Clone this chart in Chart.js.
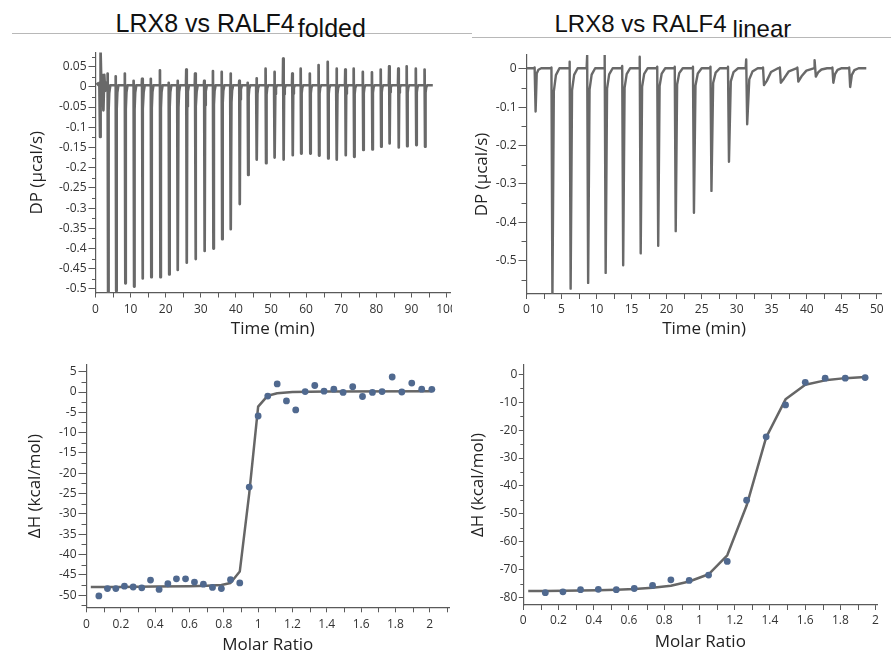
<!DOCTYPE html>
<html>
<head>
<meta charset="utf-8">
<script src="https://cdn.jsdelivr.net/npm/chart.js@4.4.1/dist/chart.umd.min.js"></script>
<style>
  body { margin: 0; background: #fff; width: 891px; height: 655px; position: relative; overflow: hidden; }
  .rule { position: absolute; height: 1px; background: #b8b8b8; }
  .title { position: absolute; font-family: "Liberation Sans", Arial, sans-serif; color: #111; white-space: nowrap; line-height: 24px; }
  .title span { position: relative; }
  .panel { position: absolute; overflow: hidden; }
  .panel canvas { display: block; }
</style>
</head>
<body>
<div class="rule" style="left:12px;top:33px;width:460px"></div>
<div class="rule" style="left:472px;top:37px;width:419px"></div>
<div class="title" style="left:115.5px;top:11.3px;font-size:25px">LRX8 vs RALF4<span style="margin-left:3px;top:5px">folded</span></div>
<div class="title" style="left:554.5px;top:12.4px;font-size:24px">LRX8 vs RALF4<span style="margin-left:6px;top:4.6px">linear</span></div>

<script>
// ---- top left: LRX8 vs RALF4 folded, raw power trace ----
const foldStartTime = [0.3, 0.8, 1.1, 1.3, 1.45, 1.6, 1.8, 2.05, 2.25, 2.5, 2.75, 3.0, 3.2];
const foldStartDP = [0.01, 0.005, 0.01, -0.124, 0.086, 0.03, 0.0, 0.02, -0.058, 0.03, -0.01, 0.01, 0.005];
const foldInjTime = [3.5, 5.8, 8.4, 10.9, 13.3, 15.8, 18.4, 20.9, 23.4, 25.9, 28.4, 31.0, 33.5, 36.0, 38.5, 41.0,
  43.4, 45.9, 48.5, 51.0, 53.5, 56.1, 58.5, 61.1, 63.6, 66.2, 68.7, 71.2, 73.6, 76.2, 78.8, 81.3, 83.7, 86.3, 88.7, 91.3, 93.8];
const foldPeakDP = [-0.53, -0.505, -0.486, -0.494, -0.474, -0.471, -0.471, -0.464, -0.453, -0.435, -0.426, -0.406, -0.400, -0.377, -0.352, -0.290,
  -0.218, -0.180, -0.189, -0.175, -0.180, -0.169, -0.165, -0.165, -0.170, -0.177, -0.180, -0.169, -0.173, -0.156, -0.155, -0.148, -0.140, -0.150, -0.147, -0.144, -0.148];
const foldSpikeDP = [0.033, 0.026, 0.033, 0.015, 0.02, 0.02, 0.041, 0.01, 0.015, 0.043, 0.033, 0.015, 0.039, 0.037, 0.033, 0.015,
  0.01, 0.021, 0.045, 0.037, 0.070, 0.033, 0.045, 0.033, 0.054, 0.062, 0.045, 0.043, 0.045, 0.037, 0.036, 0.043, 0.051, 0.045, 0.051, 0.045, 0.043];
const foldRecovery = 0.6;
const foldTail = 0.12;
const foldBaseDP = 0.004;
const foldEndTime = 96.1;

// ---- top right: LRX8 vs RALF4 linear, raw power trace ----
const linStartTime = [0];
const linStartDP = [0.002];
const linInjTime = [1.2, 3.6, 6.2, 8.7, 11.2, 13.7, 16.2, 18.7, 21.2, 23.8, 26.3, 28.8, 31.4, 33.8, 36.2, 38.7, 41.2, 43.7, 46.1];
const linPeakDP = [-0.111, -0.60, -0.573, -0.558, -0.532, -0.512, -0.481, -0.461, -0.423, -0.375, -0.318, -0.242, -0.144, -0.042, -0.036, -0.033, -0.020, -0.036, -0.047];
const linSpikeDP = [0.004, 0.004, 0.019, 0.036, 0.036, 0.008, 0.032, 0.006, 0.006, 0.006, 0.006, 0.006, 0.025, 0.004, 0.004, 0.004, 0.023, 0.004, 0.004];
const linRecovery = [0.8, 1.0, 1.0, 1.0, 1.0, 1.0, 1.0, 1.0, 1.0, 1.1, 1.2, 1.3, 1.5, 2.0, 2.3, 2.3, 1.6, 1.2, 1.2];
const linTail = [0.12, 0.1, 0.1, 0.1, 0.1, 0.1, 0.1, 0.1, 0.1, 0.12, 0.12, 0.14, 0.2, 0.75, 0.7, 0.6, 0.5, 0.4, 0.35];
const linBaseDP = 0.002;
const linEndTime = 48.5;

// ---- bottom left: integrated heats, folded ----
const foldRatio = [0.072, 0.122, 0.171, 0.221, 0.272, 0.322, 0.373, 0.423, 0.474, 0.524, 0.577, 0.629, 0.681, 0.734, 0.786, 0.839, 0.893, 0.948, 1.000,
  1.056, 1.111, 1.165, 1.219, 1.274, 1.330, 1.384, 1.441, 1.495, 1.551, 1.608, 1.666, 1.722, 1.781, 1.837, 1.895, 1.953, 2.012];
const foldDH = [-50.2, -48.4, -48.4, -47.8, -48.0, -48.2, -46.3, -48.6, -47.2, -46.0, -46.0, -46.8, -47.3, -48.1, -48.4, -46.2, -47.0, -23.4, -5.9,
  -1.0, 2.0, -2.2, -4.4, 0.1, 1.6, 0.2, 0.7, -0.1, 1.3, -1.1, -0.1, 0.1, 3.7, 0.0, 2.2, 0.7, 0.65];
const foldFitRatio = [0.025, 0.2, 0.4, 0.6, 0.7, 0.786, 0.839, 0.893, 0.948, 1.0, 1.056, 1.111, 1.2, 1.4, 2.012];
const foldFitDH = [-48.0, -48.0, -47.9, -47.8, -47.7, -47.5, -47.0, -44.2, -25.0, -3.6, -0.9, -0.3, 0.0, 0.1, 0.2];

// ---- bottom right: integrated heats, linear ----
const linRatio = [0.125, 0.225, 0.325, 0.426, 0.528, 0.630, 0.734, 0.838, 0.942, 1.052, 1.158, 1.268, 1.379, 1.489, 1.601, 1.714, 1.828, 1.941];
const linDH = [-78.2, -77.9, -77.1, -77.0, -77.1, -76.7, -75.6, -73.6, -73.8, -71.9, -67.0, -45.1, -22.4, -11.0, -2.9, -1.4, -1.4, -1.2];
const linFitRatio = [0.028, 0.125, 0.225, 0.325, 0.426, 0.528, 0.630, 0.734, 0.838, 0.942, 1.052, 1.158, 1.268, 1.379, 1.489, 1.601, 1.714, 1.828, 1.941];
const linFitDH = [-77.6, -77.6, -77.5, -77.4, -77.3, -77.1, -76.9, -76.4, -75.7, -74.2, -71.6, -64.8, -47.0, -22.6, -9.0, -3.8, -2.2, -1.4, -1.0];

// ---- tick labels ----
const foldTimeTicks = [0, 10, 20, 30, 40, 50, 60, 70, 80, 90, 100];
const foldDPTicks = [0.05, 0, -0.05, -0.1, -0.15, -0.2, -0.25, -0.3, -0.35, -0.4, -0.45, -0.5];
const linTimeTicks = [0, 5, 10, 15, 20, 25, 30, 35, 40, 45, 50];
const linDPTicks = [0, -0.1, -0.2, -0.3, -0.4, -0.5];
const ratioTicks = [0, 0.2, 0.4, 0.6, 0.8, 1, 1.2, 1.4, 1.6, 1.8, 2];
const foldDHTicks = [5, 0, -5, -10, -15, -20, -25, -30, -35, -40, -45, -50];
const linDHTicks = [0, -10, -20, -30, -40, -50, -60, -70, -80];

const AXIS = '#5a5a5a';
const TRACE = '#696969';
const DOT = '#50698f';

// polyline of a power trace: start section, then one spike/peak/recovery per injection
function thermogram(startT, startDP, injT, peakDP, spikeDP, recovery, tail, base, endT) {
  const pts = startT.map((t, i) => ({ x: t, y: startDP[i] }));
  injT.forEach((t, i) => {
    const r = Array.isArray(recovery) ? recovery[i] : recovery;
    const f = Array.isArray(tail) ? tail[i] : tail;
    const d = peakDP[i] - base;
    pts.push({ x: t - 0.12, y: base });
    pts.push({ x: t - 0.04, y: spikeDP[i] });
    pts.push({ x: t + 0.1, y: peakDP[i] });
    pts.push({ x: t + 0.1 + r * 0.2, y: base + d * f });
    pts.push({ x: t + 0.1 + r * 0.5, y: base + d * f * 0.3 });
    pts.push({ x: t + 0.1 + r, y: base });
  });
  pts.push({ x: endT, y: base });
  return pts;
}

const pairs = (xs, ys) => xs.map((x, i) => ({ x, y: ys[i] }));

function minorPlugin(p) {
  return {
    id: 'minorTicks',
    afterDraw(chart) {
      const ctx = chart.ctx;
      ctx.save();
      ctx.strokeStyle = AXIS;
      ctx.lineWidth = 1;
      [['x', p.x], ['y', p.y]].forEach(([id, a]) => {
        const s = chart.scales[id];
        for (let k = Math.ceil(a.min / a.minor - 1e-9); k * a.minor <= a.max + 1e-9; k++) {
          const v = +(k * a.minor).toFixed(6);
          if (a.major.some(m => Math.abs(m - v) < 1e-9)) continue;
          const px = Math.round(s.getPixelForValue(v)) + 0.5;
          ctx.beginPath();
          if (id === 'x') { ctx.moveTo(px, s.top); ctx.lineTo(px, s.top + a.minorLen); }
          else { ctx.moveTo(s.right, px); ctx.lineTo(s.right - a.minorLen, px); }
          ctx.stroke();
        }
      });
      ctx.restore();
    }
  };
}

function panel(p) {
  const left = Math.round(p.yTitleX - 10.2);
  const bottom = Math.round(p.xTitleY + 10.2);
  const width = p.right - left;
  const height = bottom - p.top;
  const wrap = document.createElement('div');
  wrap.className = 'panel';
  wrap.style.left = left + 'px';
  wrap.style.top = p.top + 'px';
  wrap.style.width = ((p.clip || p.right) - left) + 'px';
  wrap.style.height = height + 'px';
  const cv = document.createElement('canvas');
  cv.width = width;
  cv.height = height;
  wrap.appendChild(cv);
  document.body.appendChild(wrap);

  const axis = (a, pos, isX) => ({
    type: 'linear',
    position: pos,
    bounds: 'data',
    min: a.min,
    max: a.max,
    afterBuildTicks: s => { s.ticks = a.major.map(v => ({ value: v })); },
    afterFit: s => { if (isX) s.height = bottom - p.area.b; else s.width = p.area.l - left; },
    grid: { display: true, drawOnChartArea: false, drawTicks: true, tickLength: a.len, color: AXIS, lineWidth: 1 },
    border: { display: true, color: AXIS, width: 1.2 },
    ticks: {
      autoSkip: false, maxRotation: 0, padding: a.pad, color: '#333',
      font: { family: 'Open Sans', size: 12 },
      callback: v => String(+v.toFixed(4))
    },
    title: { display: true, text: a.title, color: '#222', font: { family: 'Open Sans', size: 17 }, padding: 0 }
  });

  new Chart(cv, {
    type: 'line',
    data: { datasets: p.datasets },
    options: {
      responsive: false,
      animation: false,
      devicePixelRatio: 1,
      layout: { padding: { left: 0, top: p.area.t - p.top, right: p.right - p.area.r, bottom: 0 } },
      elements: { line: { tension: 0 } },
      scales: { x: axis(p.x, 'bottom', true), y: axis(p.y, 'left', false) },
      plugins: { legend: { display: false }, tooltip: { enabled: false } }
    },
    plugins: [minorPlugin(p)]
  });
}

const dotStyle = { showLine: false, pointRadius: 3.4, pointBackgroundColor: DOT, pointBorderWidth: 0 };
const fitStyle = { borderColor: '#666', borderWidth: 2.5, pointRadius: 0, borderJoinStyle: 'round' };

panel({
  top: 40, right: 472, clip: 452, yTitleX: 37, xTitleY: 328.4,
  area: { l: 95.5, r: 450, t: 52.5, b: 293 },
  x: { min: 0, max: 101, major: foldTimeTicks, minor: 5, len: 4.5, minorLen: 4.5, pad: 5.3, title: 'Time (min)' },
  y: { min: -0.51, max: 0.085, major: foldDPTicks, minor: 0.025, len: 7, minorLen: 3.5, pad: 2, title: 'DP (µcal/s)' },
  datasets: [{
    data: thermogram(foldStartTime, foldStartDP, foldInjTime, foldPeakDP, foldSpikeDP, foldRecovery, foldTail, foldBaseDP, foldEndTime),
    borderColor: TRACE, borderWidth: 2.7, pointRadius: 0, borderJoinStyle: 'round'
  }]
});

panel({
  top: 42, right: 891, yTitleX: 482, xTitleY: 328.4,
  area: { l: 526.5, r: 881.7, t: 55, b: 294 },
  x: { min: 0, max: 50.7, major: linTimeTicks, minor: 2.5, len: 5, minorLen: 5, pad: 3.8, title: 'Time (min)' },
  y: { min: -0.587, max: 0.0365, major: linDPTicks, minor: 0.05, len: 8, minorLen: 5, pad: 2, title: 'DP (µcal/s)' },
  datasets: [{
    data: thermogram(linStartTime, linStartDP, linInjTime, linPeakDP, linSpikeDP, linRecovery, linTail, linBaseDP, linEndTime),
    borderColor: TRACE, borderWidth: 2.4, pointRadius: 0, borderJoinStyle: 'round'
  }]
});

panel({
  top: 352, right: 470, yTitleX: 35, xTitleY: 644.4,
  area: { l: 86.5, r: 449, t: 365, b: 607.3 },
  x: { min: 0, max: 2.112, major: ratioTicks, minor: 0.1, len: 5, minorLen: 5, pad: 4.8, title: 'Molar Ratio' },
  y: { min: -53.0, max: 6.65, major: foldDHTicks, minor: 2.5, len: 8, minorLen: 5, pad: 2, title: 'ΔH (kcal/mol)' },
  datasets: [
    Object.assign({ data: pairs(foldRatio, foldDH) }, dotStyle),
    Object.assign({ data: pairs(foldFitRatio, foldFitDH) }, fitStyle)
  ]
});

panel({
  top: 352, right: 891, yTitleX: 478, xTitleY: 641.7,
  area: { l: 523.3, r: 877.3, t: 365, b: 605 },
  x: { min: 0, max: 2.01, major: ratioTicks, minor: 0.1, len: 5, minorLen: 5, pad: 3.8, title: 'Molar Ratio' },
  y: { min: -82.6, max: 3.3, major: linDHTicks, minor: 5, len: 4.5, minorLen: 3, pad: 1.5, title: 'ΔH (kcal/mol)' },
  datasets: [
    Object.assign({ data: pairs(linRatio, linDH) }, dotStyle),
    Object.assign({ data: pairs(linFitRatio, linFitDH) }, fitStyle)
  ]
});
</script>
</body>
</html>
